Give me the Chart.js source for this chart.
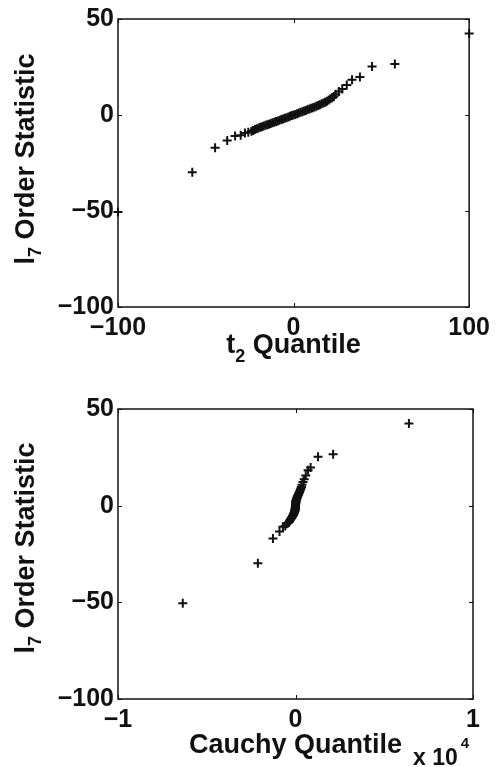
<!DOCTYPE html>
<html>
<head>
<meta charset="utf-8">
<script src="https://cdn.jsdelivr.net/npm/chart.js@4"></script>
<style>
  html, body { margin: 0; padding: 0; background: #fff; }
  body { width: 496px; height: 767px; position: relative; overflow: hidden; }
  canvas { position: absolute; left: 0; }
</style>
</head>
<body>
<canvas id="topChart" width="496" height="383" style="top:0"></canvas>
<canvas id="bottomChart" width="496" height="384" style="top:383px"></canvas>
<script>
// l7 order statistics (shared by both plots), ascending
const orderStat = [
  -50.5, -29.8, -17.0, -13.3, -10.9, -10.5, -9.4, -9.0,
  -8.5, -8.1, -7.6, -7.2, -6.8, -6.4, -6.1, -5.7, -5.4, -5.1, -4.8, -4.4,
  -4.1, -3.8, -3.4, -3.1, -2.7, -2.4, -2.1, -1.7, -1.4, -1.0, -0.7, -0.3,
  0.0, 0.3, 0.7, 1.0, 1.4, 1.7, 2.1, 2.4, 2.8, 3.1, 3.5, 3.8, 4.2, 4.6,
  5.0, 5.4, 5.8, 6.2, 6.7, 7.2, 7.8, 8.4, 9.0, 9.7, 10.8,
  12.3, 13.6, 15.6, 18.3, 19.8, 25.3, 26.6, 42.5
];

// t2 quantiles (top plot x)
const t2Quantile = [
  -100, -57.7, -44.7, -37.8, -33.3, -30.1, -27.7, -25.8,
  -24, -23, -22, -21, -20, -19, -18, -17, -16, -15, -14, -13,
  -12, -11, -10, -9, -8, -7, -6, -5, -4, -3, -2, -1,
  0, 1, 2, 3, 4, 5, 6, 7, 8, 9, 10, 11, 12, 13,
  14, 15, 16, 17, 18, 19, 20, 21, 22, 23, 24,
  25.8, 27.7, 30.3, 33.3, 37.8, 44.7, 57.7, 100
];

// Cauchy quantiles (bottom plot x)
const cauchyQuantile = [
  -6350, -2120, -1270, -900, -710, -580, -490, -424,
  -367, -337, -308, -281, -255, -230, -206, -184, -163, -143, -125, -108,
  -92, -77, -64, -52, -41, -31, -23, -16, -10, -6, -3, -1,
  0, 1, 3, 6, 10, 16, 23, 31, 41, 52, 64, 77, 92, 108,
  125, 143, 163, 184, 206, 230, 255, 281, 308, 337, 367,
  424, 490, 580, 710, 850, 1270, 2120, 6390
];

const yTicks = [-100, -50, 0, 50];
const t2Ticks = [-100, 0, 100];
const cauchyTicks = [-10000, 0, 10000];

const FONT = '"Liberation Sans", Arial, Helvetica, sans-serif';
const INK = '#111';

function minus(v) {
  return v < 0 ? '\u2212' + Math.abs(v) : String(v);
}

// draw a row of text pieces (for sub/superscripts)
function drawRuns(ctx, runs, cx, baseY) {
  let total = 0;
  runs.forEach(r => {
    ctx.font = 'bold ' + r.size + 'px ' + FONT;
    r.w = ctx.measureText(r.text).width + (r.dx || 0);
    total += r.w;
  });
  let x = cx - total / 2;
  runs.forEach(r => {
    ctx.font = 'bold ' + r.size + 'px ' + FONT;
    ctx.fillText(r.text, x + (r.dx || 0), baseY + (r.dy || 0));
    x += r.w;
  });
}

const framePlugin = {
  id: 'frame',
  beforeDatasetsDraw(chart) {
    const { ctx, chartArea: a, scales: { x, y } } = chart;
    ctx.save();
    ctx.strokeStyle = INK;
    ctx.lineWidth = 1.5;
    ctx.strokeRect(a.left, a.top, a.right - a.left, a.bottom - a.top);
    ctx.lineWidth = 1;
    ctx.beginPath();
    x.ticks.forEach(t => {
      const px = Math.round(x.getPixelForValue(t.value)) + 0.5;
      ctx.moveTo(px, a.bottom); ctx.lineTo(px, a.bottom - 4);
      ctx.moveTo(px, a.top); ctx.lineTo(px, a.top + 4);
    });
    y.ticks.forEach(t => {
      const py = Math.round(y.getPixelForValue(t.value)) + 0.5;
      ctx.moveTo(a.left, py); ctx.lineTo(a.left + 4, py);
      ctx.moveTo(a.right, py); ctx.lineTo(a.right - 4, py);
    });
    ctx.stroke();
    ctx.restore();
  },
  afterDraw(chart, args, opts) {
    const { ctx, chartArea: a } = chart;
    ctx.save();
    ctx.fillStyle = INK;
    ctx.textBaseline = 'alphabetic';
    // x title
    drawRuns(ctx, opts.xTitle, (a.left + a.right) / 2, opts.xTitleY);
    // y title, rotated
    ctx.save();
    ctx.translate(opts.yTitleX, (a.top + a.bottom) / 2 + opts.yTitleShift);
    ctx.rotate(-Math.PI / 2);
    drawRuns(ctx, opts.yTitle, 0, 0);
    ctx.restore();
    if (opts.exponent) {
      drawRuns(ctx, opts.exponent, opts.exponentX, opts.exponentY);
    }
    ctx.restore();
  }
};

const yTitleRuns = [
  { text: 'l', size: 27 },
  { text: '7', size: 18, dy: 7 },
  { text: ' Order Statistic', size: 27 }
];

function makeChart(id, xs, xTickVals, xMin, xMax, xLabel, area, plugOpts) {
  const points = xs.map((v, i) => ({ x: v, y: orderStat[i] }));
  return new Chart(document.getElementById(id), {
    type: 'scatter',
    data: {
      datasets: [{
        data: points,
        pointStyle: 'cross',
        pointRadius: 4.5,
        pointBorderWidth: 2,
        borderColor: INK,
        backgroundColor: INK,
        clip: false
      }]
    },
    options: {
      responsive: false,
      animation: false,
      devicePixelRatio: 1,
      layout: { padding: { left: 0, right: 23, top: area.top, bottom: 0 } },
      plugins: {
        legend: { display: false },
        tooltip: { enabled: false },
        frame: plugOpts
      },
      scales: {
        x: {
          type: 'linear',
          min: xMin, max: xMax,
          grid: { display: false, drawTicks: false },
          border: { display: false },
          afterBuildTicks: s => { s.ticks = xTickVals.map(v => ({ value: v })); },
          afterFit: s => { s.height = area.xHeight; },
          ticks: {
            padding: 6,
            maxRotation: 0,
            autoSkip: false,
            color: INK,
            font: { family: FONT, size: 25, weight: 'bold' },
            callback: xLabel
          }
        },
        y: {
          type: 'linear',
          min: -100, max: 50,
          grid: { display: false, drawTicks: false },
          border: { display: false },
          afterBuildTicks: s => { s.ticks = yTicks.map(v => ({ value: v })); },
          afterFit: s => { s.width = 118; },
          ticks: {
            padding: 4,
            autoSkip: false,
            color: INK,
            font: { family: FONT, size: 25, weight: 'bold' },
            callback: v => minus(v)
          }
        }
      }
    },
    plugins: [framePlugin]
  });
}

makeChart('topChart', t2Quantile, t2Ticks, -100, 100, v => minus(v),
  { top: 15, xHeight: 76 },
  {
    xTitle: [
      { text: 't', size: 27 },
      { text: '2', size: 18, dy: 9 },
      { text: ' Quantile', size: 27 }
    ],
    xTitleY: 353,
    yTitle: yTitleRuns,
    yTitleX: 34,
    yTitleShift: -4
  });

makeChart('bottomChart', cauchyQuantile, cauchyTicks, -10000, 10000, v => minus(v / 10000),
  { top: 26, xHeight: 68 },
  {
    xTitle: [{ text: 'Cauchy Quantile', size: 27 }],
    xTitleY: 370,
    yTitle: yTitleRuns,
    yTitleX: 34,
    yTitleShift: -6,
    exponent: [
      { text: 'x 10', size: 23 },
      { text: '4', size: 15, dy: -17, dx: 3 }
    ],
    exponentX: 441,
    exponentY: 382
  });
</script>
</body>
</html>
